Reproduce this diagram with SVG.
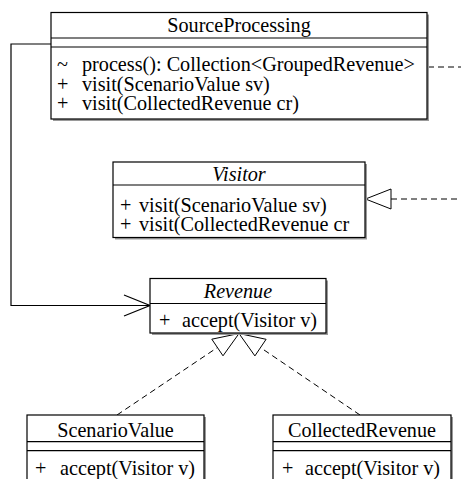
<svg xmlns="http://www.w3.org/2000/svg" width="461" height="479" viewBox="0 0 461 479">
<style>
text{font-family:"Liberation Serif","Times New Roman",serif;font-size:20.2px;fill:#000}
.n{text-anchor:middle}
.i{font-style:italic}
.box{fill:#fff;stroke:#000;stroke-width:1.2}
.sh{fill:#9a9a9a}
.ln{stroke:#000;stroke-width:1.2;fill:none}
.ds{stroke:#000;stroke-width:1;fill:none;stroke-dasharray:6,4}
.tri{fill:#fff;stroke:#000;stroke-width:1}
</style>
<g id="connectors">
<polyline class="ln" points="51,44 11,44 11,305.5 150,305.5"/>
<polyline class="ln" points="124,295 150,305.5 124,316"/>
<line class="ds" x1="428" y1="67" x2="461" y2="67"/>
<line class="ds" x1="391" y1="199" x2="461" y2="199"/>
<polygon class="tri" points="365.5,199 391,189 391,209"/>
<line class="ds" x1="117" y1="415" x2="217.4" y2="347.5"/>
<polygon class="tri" points="239,333.5 223,355.8 211.8,339.2"/>
<line class="ds" x1="360" y1="415" x2="260.5" y2="347.6"/>
<polygon class="tri" points="239,333.5 266.1,339.3 254.9,355.9"/>
</g>
<g id="SourceProcessing">
<rect class="sh" x="53" y="14.5" width="376" height="106.5"/>
<rect class="box" x="51" y="12.5" width="376" height="106.5"/>
<line class="ln" x1="51" y1="38" x2="427" y2="38"/>
<line class="ln" x1="51" y1="47" x2="427" y2="47"/>
<text class="n" x="239" y="32">SourceProcessing</text>
<text><tspan x="57" y="71">~</tspan><tspan x="82" y="71">process(): Collection&lt;GroupedRevenue&gt;</tspan><tspan x="57" y="90.5">+</tspan><tspan x="82" y="90.5">visit(ScenarioValue sv)</tspan><tspan x="57" y="110">+</tspan><tspan x="82" y="110">visit(CollectedRevenue cr)</tspan></text>
</g>
<g id="Visitor">
<rect class="sh" x="115" y="164" width="252" height="75.5"/>
<rect class="box" x="113" y="162" width="252" height="75.5"/>
<line class="ln" x1="113" y1="185" x2="365" y2="185"/>
<text class="n i" x="239" y="180.5">Visitor</text>
<text><tspan x="120" y="211.5">+</tspan><tspan x="139" y="211.5">visit(ScenarioValue sv)</tspan><tspan x="120" y="231">+</tspan><tspan x="139" y="231">visit(CollectedRevenue cr</tspan></text>
</g>
<g id="Revenue">
<rect class="sh" x="152" y="280.5" width="176" height="54.5"/>
<rect class="box" x="150" y="278.5" width="176" height="54.5"/>
<line class="ln" x1="150" y1="303.5" x2="326" y2="303.5"/>
<text class="n i" x="238" y="298">Revenue</text>
<text><tspan x="159" y="327">+</tspan><tspan x="182" y="327">accept(Visitor v)</tspan></text>
</g>
<g id="ScenarioValue">
<rect class="sh" x="29" y="417" width="177" height="70"/>
<rect class="box" x="27" y="415" width="177" height="70"/>
<line class="ln" x1="27" y1="441.7" x2="204" y2="441.7"/>
<line class="ln" x1="27" y1="450.7" x2="204" y2="450.7"/>
<text class="n" x="115.5" y="437">ScenarioValue</text>
<text><tspan x="35" y="474.5">+</tspan><tspan x="60" y="474.5">accept(Visitor v)</tspan></text>
</g>
<g id="CollectedRevenue">
<rect class="sh" x="275" y="417" width="178" height="70"/>
<rect class="box" x="273" y="415" width="178" height="70"/>
<line class="ln" x1="273" y1="441.7" x2="451" y2="441.7"/>
<line class="ln" x1="273" y1="450.7" x2="451" y2="450.7"/>
<text class="n" x="362" y="437">CollectedRevenue</text>
<text><tspan x="282" y="474.5">+</tspan><tspan x="305" y="474.5">accept(Visitor v)</tspan></text>
</g>
</svg>
